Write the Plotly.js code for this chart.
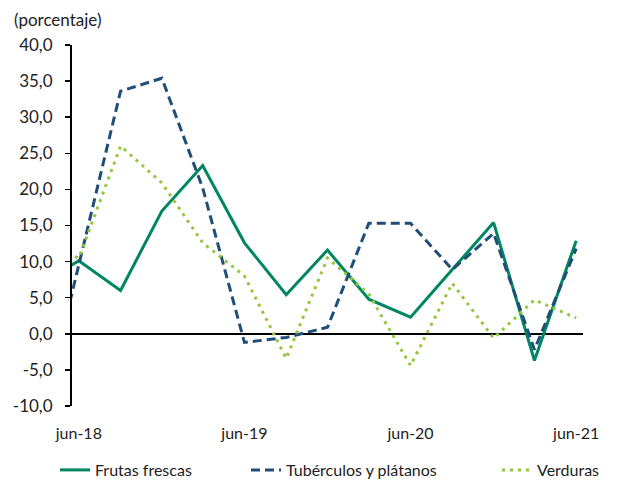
<!DOCTYPE html>
<html>
<head>
<meta charset="utf-8">
<script src="https://cdn.plot.ly/plotly-3.0.1.min.js"></script>
<style>html,body{margin:0;padding:0;background:#fff;}#chart{width:618px;height:483px;}</style>
</head>
<body>
<div id="chart"></div>
<script>
// Quarterly observations (mid-month dates); the mar-18 point lies left of the axis and is clipped
const dates = ["2018-03-16","2018-06-16","2018-09-16","2018-12-16","2019-03-16","2019-06-16","2019-09-16","2019-12-16","2020-03-16","2020-06-16","2020-09-16","2020-12-16","2021-03-16","2021-06-16"];
const frutas = [6.8, 10.1, 6.0, 17.0, 23.3, 12.6, 5.4, 11.6, 4.8, 2.3, 8.9, 15.4, -3.7, 12.9];
const tuberculos = [-14.5, 9.5, 33.6, 35.4, 20.2, -1.2, -0.5, 0.9, 15.3, 15.3, 8.9, 13.9, -2.2, 11.8];
const verduras = [12.5, 10.5, 26.0, 20.9, 12.6, 8.0, -3.4, 10.5, 5.5, -4.4, 7.0, -0.6, 4.7, 2.2];
const labelDates = ["2018-06-16","2019-06-16","2020-06-16","2021-06-16"];
const labelText = ["jun-18","jun-19","jun-20","jun-21"];
const tickMarkDates = ["2019-06-01","2020-06-01","2021-06-01"];
const xRange = ["2018-06-01","2021-07-01"];
const yTickVals = [-10, -5, 0, 5, 10, 15, 20, 25, 30, 35, 40];
const yTickText = ["-10,0","-5,0","0,0","5,0","10,0","15,0","20,0","25,0","30,0","35,0","40,0"];

const FONT = "Lato, 'Open Sans', sans-serif";
const TXT = "#222";
const traces = [
  {x: dates, y: frutas, name: "Frutas frescas", type: "scatter", mode: "lines",
   legend: "legend", line: {color: "#00875F", width: 3}},
  {x: dates, y: tuberculos, name: "Tubérculos y plátanos", type: "scatter", mode: "lines",
   legend: "legend2", line: {color: "#1F4E79", width: 3, dash: "9px,5px"}},
  {x: dates, y: verduras, name: "Verduras", type: "scatter", mode: "lines",
   legend: "legend3", line: {color: "#92C83E", width: 3, dash: "3px,5px"}}
];
function leg(px) {
  return {orientation: "h", x: px/618, xanchor: "left", xref: "container",
          y: 13/483, yanchor: "middle", yref: "container",
          font: {family: FONT, size: 16, color: TXT}, bgcolor: "rgba(0,0,0,0)"};
}
const layout = {
  width: 618, height: 483,
  margin: {l: 72, r: 35, t: 45, b: 77},
  paper_bgcolor: "#fff", plot_bgcolor: "#fff",
  font: {family: FONT, size: 16, color: TXT},
  title: {text: "(porcentaje)", x: 14/618, xanchor: "left", xref: "container",
          y: 1 - 20/483, yanchor: "middle", yref: "container",
          font: {family: FONT, size: 17, color: TXT}},
  showlegend: true,
  legend: leg(55), legend2: leg(246), legend3: leg(497),
  xaxis: {type: "date", range: xRange, showgrid: false, zeroline: false, showline: false,
          ticks: "", tickmode: "array", tickvals: labelDates, ticktext: labelText,
          ticklabelstandoff: 16, tickfont: {family: FONT, size: 16, color: TXT}},
  xaxis2: {type: "date", range: xRange, overlaying: "x", anchor: "free", position: 0.2,
           side: "bottom", showgrid: false, zeroline: false, showline: false,
           ticks: "inside", ticklen: 6, tickwidth: 1.5, tickcolor: "#000",
           tickmode: "array", tickvals: tickMarkDates, showticklabels: false},
  yaxis: {range: [-10, 40], tickmode: "array", tickvals: yTickVals, ticktext: yTickText,
          showgrid: false, showline: true, linecolor: "#000", linewidth: 2,
          ticks: "outside", ticklen: 5, tickwidth: 1.5, tickcolor: "#000",
          zeroline: true, zerolinecolor: "#000", zerolinewidth: 1.5,
          ticklabelstandoff: 9, tickfont: {family: FONT, size: 17, color: TXT}}
};
Plotly.newPlot("chart", traces, layout, {displayModeBar: false, staticPlot: true});
</script>
</body>
</html>
